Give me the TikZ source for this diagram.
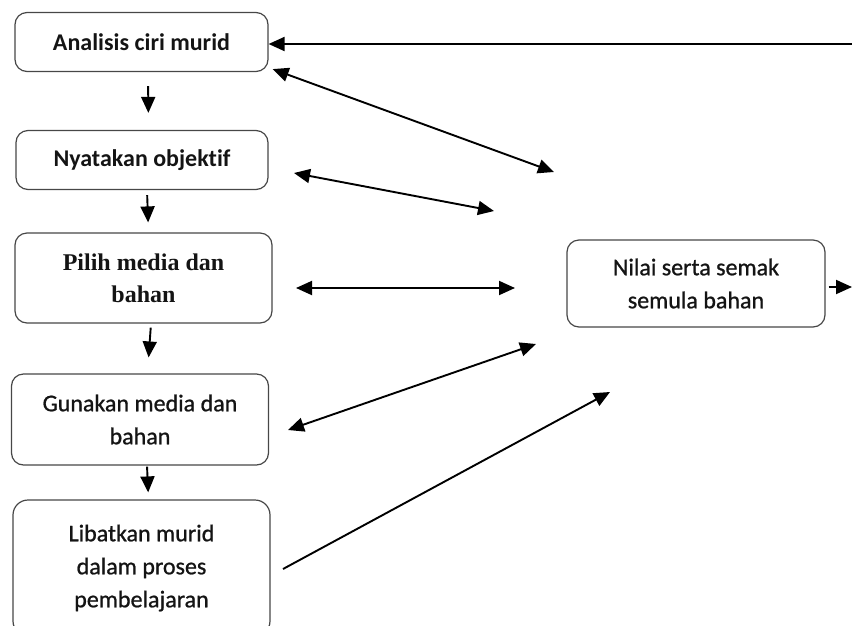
\documentclass[tikz,border=0pt]{standalone}
\usepackage{fontspec}
\setmainfont[Ligatures=NoCommon]{Carlito}
\newfontfamily\heavyface[Ligatures=NoCommon,FakeBold=0.9]{Carlito}
\newfontfamily\serifface{Liberation Serif}
\usetikzlibrary{arrows.meta,calc}

\begin{document}
\begin{tikzpicture}[x=1pt,y=-1pt,
  stage/.style={draw=black!72, line width=1.2pt, rounded corners=12pt,
    align=center, inner sep=0pt, text=black!92,
    font=\fontsize{24}{33}\selectfont\heavyface},
  stagebold/.style={stage, font=\fontsize{24}{33}\selectfont\bfseries},
  stageserif/.style={stage, font=\fontsize{24}{32}\selectfont\serifface\bfseries},
  arr/.style={line width=1.9pt, -{Triangle[length=16pt,width=14pt]}},
  dbl/.style={line width=1.9pt,
    {Triangle[length=16pt,width=14pt]}-{Triangle[length=16pt,width=14pt]}}]
\useasboundingbox (0,0) rectangle (852,625);

% left column of stages
\node[stagebold, minimum width=253pt, minimum height=59pt] (analisis) at (141.5,42)
  {Analisis ciri murid};
\node[stagebold, minimum width=252pt, minimum height=59pt] (objektif) at (142,160)
  {Nyatakan objektif};
\node[stageserif, minimum width=257pt, minimum height=90pt] (pilih) at (143.5,278)
  {Pilih media dan\\bahan};
\node[stage, minimum width=257pt, minimum height=91pt] (gunakan) at (140,419.5)
  {Gunakan media dan\\bahan};
\node[stage, rounded corners=15pt, minimum width=257pt, minimum height=136pt] (libatkan) at (141.5,568)
  {Libatkan murid\\dalam proses\\pembelajaran};

% evaluation stage on the right
\node[stage, minimum width=258pt, minimum height=87pt] (nilai) at (696,283.5)
  {Nilai serta semak\\semula bahan};

% downward flow between stages
\draw[arr, shorten <=14pt, shorten >=17pt] ($(analisis.south)+(6.5,0)$) -- ($(objektif.north)+(6.5,0)$);
\draw[arr, shorten <=5pt, shorten >=10pt] ($(objektif.south)+(5,0)$) -- ($(pilih.north)+(5,0)$);
\draw[arr, shorten <=4pt, shorten >=16pt] ($(pilih.south)+(7.5,0)$) -- ($(gunakan.north)+(7.5,0)$);
\draw[arr, shorten <=1pt, shorten >=7pt] ($(gunakan.south)+(7,0)$) -- ($(libatkan.north)+(7,0)$);

% free ends of the links towards the evaluation stage
\coordinate (topin) at (852,44);
\coordinate (n1b) at (554,172);
\coordinate (n2a) at (294,173);
\coordinate (n2b) at (494,211);
\coordinate (n3a) at (296,288);
\coordinate (n3b) at (515,288);
\coordinate (n4a) at (288,430);
\coordinate (n4b) at (536,344);
\coordinate (n5a) at (283,569);
\coordinate (n5b) at (610,392);
\coordinate (outr) at (852,287);

% feedback and links
\draw[arr] (topin) -- (analisis.east |- topin);
\draw[dbl] ([shift={(4,-3)}]analisis.south east) -- (n1b);
\draw[dbl] (n2a) -- (n2b);
\draw[dbl] (n3a) -- (n3b);
\draw[dbl] (n4a) -- (n4b);
\draw[arr] (n5a) -- (n5b);
\draw[arr] ([shift={(3,0)}]nilai.east |- outr) -- (outr);
\end{tikzpicture}
\end{document}
